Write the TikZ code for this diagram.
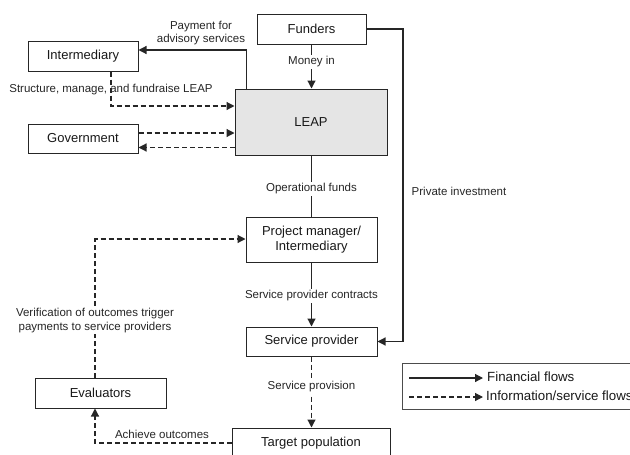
\documentclass[tikz,border=0pt]{standalone}
\usepackage{fontspec}
\setmainfont{Liberation Sans}
\usetikzlibrary{arrows.meta,calc}
\begin{document}
\begin{tikzpicture}[x=1pt,y=-1pt,
  box/.style={draw=black!85,line width=1pt,fill=white,font=\fontsize{13}{15}\selectfont,align=center,inner sep=0pt,text=black!90},
  lbl/.style={font=\fontsize{11.5}{13.5}\selectfont,align=center,fill=white,inner sep=1.5pt,text=black!85},
  fin/.style={draw=black!85,line width=1.2pt,-{Triangle[length=8pt,width=8pt]}},
  finplain/.style={draw=black!85,line width=1.2pt},
  info/.style={draw=black!85,line width=1.2pt,dash pattern=on 5pt off 3pt,-{Triangle[length=8pt,width=8pt]}}]
\useasboundingbox (0,0) rectangle (630,455);
\clip (0,0) rectangle (630,455);
% nodes
\node[box,minimum width=109pt,minimum height=30pt] (Funders) at (311.5,29) {Funders};
\node[box,minimum width=110pt,minimum height=30pt] (Intermediary) at (83,56) {Intermediary};
\node[box,fill=black!10,minimum width=152pt,minimum height=66pt] (LEAP) at (311,122) {LEAP};
\node[box,minimum width=110pt,minimum height=29pt] (Government) at (83,138.5) {Government};
\node[box,minimum width=131pt,minimum height=45pt] (PM) at (311.5,239.5) {Project manager/\\Intermediary};
\node[box,minimum width=131pt,minimum height=29pt] (SP) at (311.5,341.5) {Service provider};
\node[box,minimum width=131pt,minimum height=30pt] (Evaluators) at (100.5,393) {Evaluators};
\node[box,minimum width=158pt,minimum height=30pt] (Target) at (311,443) {Target population};
\coordinate (pi) at (403,191);
% connectors
\draw[fin] ([xshift=12]LEAP.north west) |- ([yshift=6]Intermediary.east);
\node[lbl,fill=none] (paylbl) at (201,33) {Payment for\\advisory services};
\draw[fin] (Funders.south) -- (Funders.south |- LEAP.north);
\node[lbl] (moneylbl) at (311.5,62) {Money in};
\draw[info] ([xshift=28]Intermediary.south) |- ([yshift=16]LEAP.west);
\node[lbl,fill=none] (structlbl) at (111,90) {Structure, manage, and fundraise LEAP};
\draw[info] ([yshift=5.5]Government.east) -- ([yshift=5.5]Government.east -| LEAP.west);
\draw[info] ([yshift=-9]Government.east -| LEAP.west) -- ([yshift=-9]Government.east);
\draw[fin] (Funders.east) -| (pi) |- (SP.east);
\node[lbl,anchor=west,fill=none] (privlbl) at (410,191) {Private investment};
\draw[finplain] (PM.north |- LEAP.south) -- (PM.north);
\node[lbl] (oplbl) at (311.5,189) {Operational funds};
\draw[fin] (PM.south) -- (SP.north);
\node[lbl] (contrlbl) at (311.5,296) {Service provider contracts};
\draw[info] ([xshift=-5.5]Evaluators.north) |- ([yshift=0.5]PM.west);
\node[lbl] (verlbl) at (95,320.5) {Verification of outcomes trigger\\payments to service providers};
\draw[info] (SP.south) -- (SP.south |- Target.north);
\node[lbl] (provlbl) at (311.5,387) {Service provision};
\draw[info] (Target.west) -| ([xshift=-5.5]Evaluators.south);
\node[lbl,fill=none] (achlbl) at (162,434) {Achieve outcomes};
% legend
\node[draw=black!70,line width=0.9pt,minimum width=240pt,minimum height=46pt,inner sep=0pt] (legend) at (522,386) {};
\coordinate (l1a) at (409,378);
\coordinate (l1b) at (483,378);
\coordinate (l2a) at (409,397);
\coordinate (l2b) at (483,397);
\draw[fin] (l1a) -- (l1b);
\draw[info] (l2a) -- (l2b);
\node[anchor=west,font=\fontsize{13.3}{15}\selectfont,inner sep=0pt,text=black!90] (lg1) at (487,377) {Financial flows};
\node[anchor=west,font=\fontsize{13.3}{15}\selectfont,inner sep=0pt,text=black!90] (lg2) at (486,396) {Information/service flows};
\end{tikzpicture}
\end{document}
